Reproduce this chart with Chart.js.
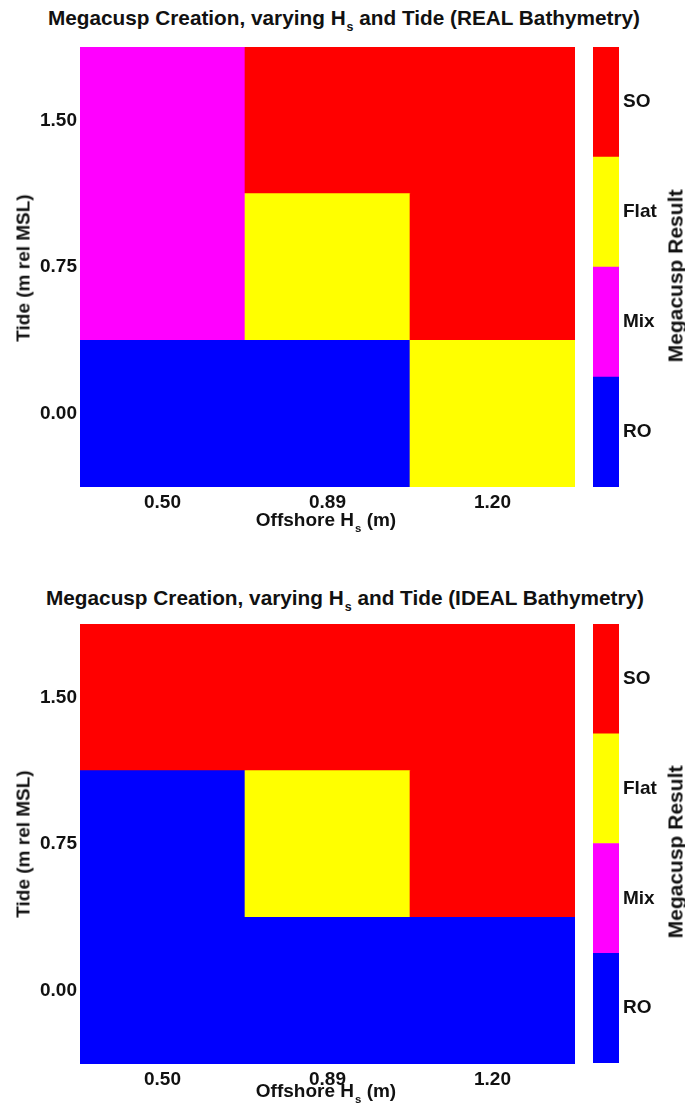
<!DOCTYPE html>
<html>
<head>
<meta charset="utf-8">
<script src="https://cdn.jsdelivr.net/npm/chart.js@4.4.1/dist/chart.umd.min.js"></script>
<style>
  body { margin: 0; width: 685px; height: 1110px; background: #fff; position: relative; overflow: hidden;
         font-family: "Liberation Sans", Arial, sans-serif; color: #111; }
  canvas { position: absolute; }
  .txt { position: absolute; font-weight: bold; white-space: nowrap; }
  .title { font-size: 21px; line-height: 21px; transform-origin: 0 0; }
  .xlab { font-size: 19px; line-height: 19px; transform: translateX(-50%); }
  .rot { font-size: 19px; line-height: 19px; transform: translate(-50%, -50%) rotate(-90deg); }
  .cblab { font-size: 21px; line-height: 21px; }
  sub { font-size: 0.6em; vertical-align: -0.5em; line-height: 0; margin-left: 1px; }
</style>
</head>
<body>
<div class="txt title" id="title1" style="left:48px; top:7px;">Megacusp Creation, varying H<sub>s</sub> and Tide (REAL Bathymetry)</div>
<canvas id="realMap" width="580" height="480" style="left:0; top:47px;"></canvas>
<canvas id="realBar" width="120" height="440" style="left:560px; top:47px;"></canvas>
<div class="txt xlab" style="left:326px; top:510px;">Offshore H<sub>s</sub> (m)</div>
<div class="txt rot" style="left:23px; top:268px;">Tide (m rel MSL)</div>
<div class="txt rot cblab" style="left:675px; top:276px;">Megacusp Result</div>

<div class="txt title" id="title2" style="left:46px; top:587px;">Megacusp Creation, varying H<sub>s</sub> and Tide (IDEAL Bathymetry)</div>
<canvas id="idealMap" width="580" height="480" style="left:0; top:624px;"></canvas>
<canvas id="idealBar" width="120" height="439" style="left:560px; top:624px;"></canvas>
<div class="txt xlab" style="left:326px; top:1081px;">Offshore H<sub>s</sub> (m)</div>
<div class="txt rot" style="left:23px; top:844px;">Tide (m rel MSL)</div>
<div class="txt rot cblab" style="left:675px; top:852px;">Megacusp Result</div>

<script>
const hsLabels = ['0.50', '0.89', '1.20'];
const tideValues = [0.00, 0.75, 1.50];
const classNames = ['RO', 'Mix', 'Flat', 'SO'];
const classColors = ['#0000ff', '#ff00ff', '#ffff00', '#ff0000'];

// result per Hs column, one list per tide level
const realTide000 = ['RO', 'RO', 'Flat'];
const realTide075 = ['Mix', 'Flat', 'SO'];
const realTide150 = ['Mix', 'SO', 'SO'];
const idealTide000 = ['RO', 'RO', 'RO'];
const idealTide075 = ['RO', 'Flat', 'SO'];
const idealTide150 = ['SO', 'SO', 'SO'];

const FONT = '"Liberation Sans", Arial, sans-serif';
const TEXT = '#111';
const half = (tideValues[1] - tideValues[0]) / 2;

function colorOf(name) {
    return classColors[classNames.indexOf(name)];
}

// keep the plot area flush with the canvas edges (no room reserved for edge labels)
function noEdgePadding(s) {
    s.paddingTop = 0;
    s.paddingBottom = 0;
}

function drawMap(id, rows) {
    const ctx = document.getElementById(id).getContext('2d');
    const datasets = rows.map((row, i) => ({
        data: row.map(() => [tideValues[i] - half, tideValues[i] + half]),
        backgroundColor: row.map(colorOf),
        borderWidth: 0,
        grouped: false,
        barPercentage: 1,
        categoryPercentage: 1
    }));
    return new Chart(ctx, {
        type: 'bar',
        data: { labels: hsLabels, datasets },
        options: {
            responsive: false,
            animation: false,
            devicePixelRatio: 1,
            layout: { padding: { right: 5, top: 0, left: 0, bottom: 0 } },
            plugins: { legend: { display: false }, tooltip: { enabled: false } },
            scales: {
                x: {
                    grid: { display: false, drawTicks: false },
                    border: { display: false },
                    ticks: { color: TEXT, padding: 4, maxRotation: 0, font: { family: FONT, size: 19, weight: 'bold' } },
                    afterFit: s => { s.height = 40; s.paddingLeft = 0; s.paddingRight = 0; }
                },
                y: {
                    type: 'linear',
                    min: tideValues[0] - half,
                    max: tideValues[tideValues.length - 1] + half,
                    grid: { display: false, drawTicks: false },
                    border: { display: false },
                    afterBuildTicks: s => { s.ticks = tideValues.map(v => ({ value: v })); },
                    ticks: { color: TEXT, padding: 3, callback: v => Number(v).toFixed(2), font: { family: FONT, size: 19, weight: 'bold' } },
                    afterFit: s => { s.width = 80; noEdgePadding(s); }
                }
            }
        }
    });
}

function drawColorbar(id) {
    const ctx = document.getElementById(id).getContext('2d');
    const datasets = classNames.map((name, i) => ({
        data: [[i + 0.5, i + 1.5]],
        backgroundColor: classColors[i],
        borderWidth: 0,
        grouped: false,
        barPercentage: 1,
        categoryPercentage: 1
    }));
    return new Chart(ctx, {
        type: 'bar',
        data: { labels: [''], datasets },
        options: {
            responsive: false,
            animation: false,
            devicePixelRatio: 1,
            layout: { padding: { left: 33 } },
            plugins: { legend: { display: false }, tooltip: { enabled: false } },
            scales: {
                x: { display: false },
                y: {
                    type: 'linear',
                    position: 'right',
                    min: 0.5,
                    max: classNames.length + 0.5,
                    grid: { display: false, drawTicks: false },
                    border: { display: false },
                    afterBuildTicks: s => { s.ticks = classNames.map((n, i) => ({ value: i + 1 })); },
                    ticks: { color: TEXT, padding: 4, callback: v => classNames[Math.round(v) - 1], font: { family: FONT, size: 19, weight: 'bold' } },
                    afterFit: s => { s.width = 61; noEdgePadding(s); }
                }
            }
        }
    });
}

function fitWidth(id, target) {
    const el = document.getElementById(id);
    const w = el.getBoundingClientRect().width;
    el.style.transform = 'scaleX(' + (target / w) + ')';
}

drawMap('realMap', [realTide000, realTide075, realTide150]);
drawColorbar('realBar');
drawMap('idealMap', [idealTide000, idealTide075, idealTide150]);
drawColorbar('idealBar');

fitWidth('title1', 592);
fitWidth('title2', 598);
</script>
</body>
</html>
